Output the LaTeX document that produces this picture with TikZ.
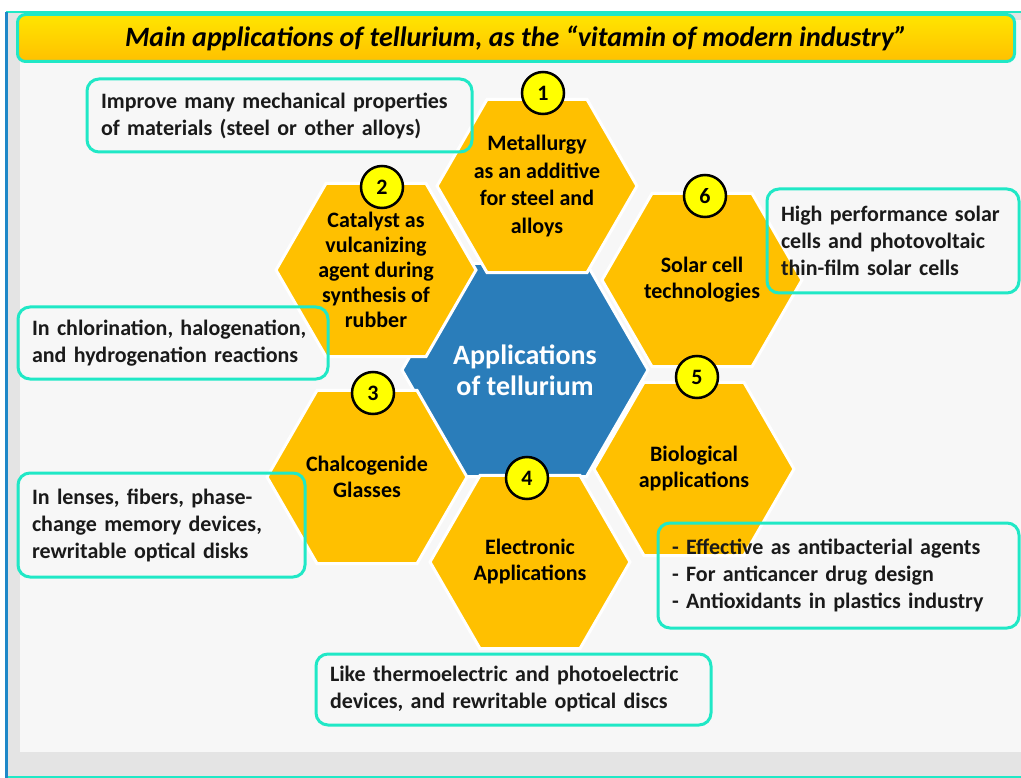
\documentclass[tikz,border=0pt]{standalone}
\usepackage{fontspec}
\setmainfont{Carlito}
\usetikzlibrary{shapes.geometric}

\definecolor{hexorange}{RGB}{255,192,0}
\definecolor{telblue}{RGB}{42,125,186}
\definecolor{boxcyan}{RGB}{32,232,198}
\definecolor{numyellow}{RGB}{255,255,0}
\definecolor{textdark}{RGB}{26,26,26}
\definecolor{panelgray}{RGB}{247,247,247}
\definecolor{bevelgray}{RGB}{228,228,228}
\definecolor{frameblue}{RGB}{30,136,200}

\begin{document}
\begin{tikzpicture}[x=1pt,y=-1pt,
    hexa/.style={regular polygon,regular polygon sides=6,minimum size=200pt,inner sep=0pt,
        fill=hexorange,draw=white,line width=3pt},
    hextext/.style={align=center,text=black,font=\fontsize{22}{26}\selectfont\bfseries},
    numdot/.style={circle,fill=numyellow,draw=black,line width=2.5pt,minimum size=42pt,
        inner sep=0pt,font=\fontsize{22}{22}\selectfont\bfseries},
    infobox/.style={draw=boxcyan,line width=3pt,rounded corners=12pt,align=left,
        inner xsep=14pt,inner ysep=0pt,text=textdark,font=\fontsize{22}{27}\selectfont\bfseries}]
\useasboundingbox (0,0) rectangle (1021,778);

% frame and panel
\fill[white] (0,0) rectangle (1021,778);
\fill[bevelgray] (6,13) rectangle (1021,776);
\fill[panelgray] (20,20) rectangle (1021,752);
\draw[boxcyan,line width=2pt] (6,12) -- (1021,12);
\draw[boxcyan,line width=2pt] (6,777) -- (1021,777);
\draw[frameblue,line width=3pt] (6,12) -- (6,778);

% title bar
\node[draw=boxcyan,line width=3pt,rounded corners=8pt,top color=yellow!80!orange,
    bottom color=hexorange,minimum width=997pt,minimum height=47pt,
    font=\fontsize{28}{30}\selectfont\bfseries\itshape] (title) at (516,38)
    {Main applications of tellurium, as the “vitamin of modern industry”};

% centre
\node[hexa,minimum size=246pt,fill=telblue] (core) at (525,370) {};
\node[align=center,text=white,font=\fontsize{28}{31}\selectfont\bfseries] (coretext) at (core.center)
    {Applications\\of tellurium};

% hexagons
\node[hexa] (h1) at (537,186) {};
\node[hexa] (h2) at (376,270) {};
\node[hexa] (h6) at (702,280) {};
\node[hexa] (h3) at (367,477) {};
\node[hexa] (h5) at (694,469) {};
\node[hexa] (h4) at (530,562) {};

\node[hextext,font=\fontsize{22}{27.5}\selectfont\bfseries] (t1) at (h1.center)
    {Metallurgy\\as an additive\\for steel and\\alloys};
\node[hextext,font=\fontsize{22}{25}\selectfont\bfseries] (t2) at (h2.center)
    {Catalyst as\\vulcanizing\\agent during\\synthesis of\\rubber};
\node[hextext] (t6) at (h6.center) {Solar cell\\technologies};
\node[hextext] (t3) at (h3.center) {Chalcogenide\\Glasses};
\node[hextext] (t5) at (h5.center) {Biological\\applications};
\node[hextext] (t4) at (h4.center) {Electronic\\Applications};

% numbers
\node[numdot] (n1) at (543,93) {1};
\node[numdot] (n2) at (382,187) {2};
\node[numdot] (n3) at (373,393) {3};
\node[numdot] (n4) at (527,478) {4};
\node[numdot] (n5) at (697,377) {5};
\node[numdot] (n6) at (705,196) {6};

% notes
\node[infobox,text width=357pt,minimum height=73pt] (b1) at (279.5,115.5)
    {Improve many mechanical properties\\of materials (steel or other alloys)};
\node[infobox,text width=282pt,minimum height=72pt] (b2) at (173,343)
    {In chlorination, halogenation,\\and hydrogenation reactions};
\node[infobox,text width=259pt,minimum height=104pt] (b3) at (161.5,525)
    {In lenses, fibers, phase-\\change memory devices,\\rewritable optical disks};
\node[infobox,text width=224pt,minimum height=104pt] (b6) at (893,241)
    {High performance solar\\cells and photovoltaic\\thin-film solar cells};
\node[infobox,text width=333pt,minimum height=105pt] (b5) at (838.5,575.5)
    {- Effective as antibacterial agents\\- For anticancer drug design\\- Antioxidants in plastics industry};
\node[infobox,text width=367pt,minimum height=71pt] (b4) at (513.5,689.5)
    {Like thermoelectric and photoelectric\\devices, and rewritable optical discs};
\end{tikzpicture}
\end{document}
